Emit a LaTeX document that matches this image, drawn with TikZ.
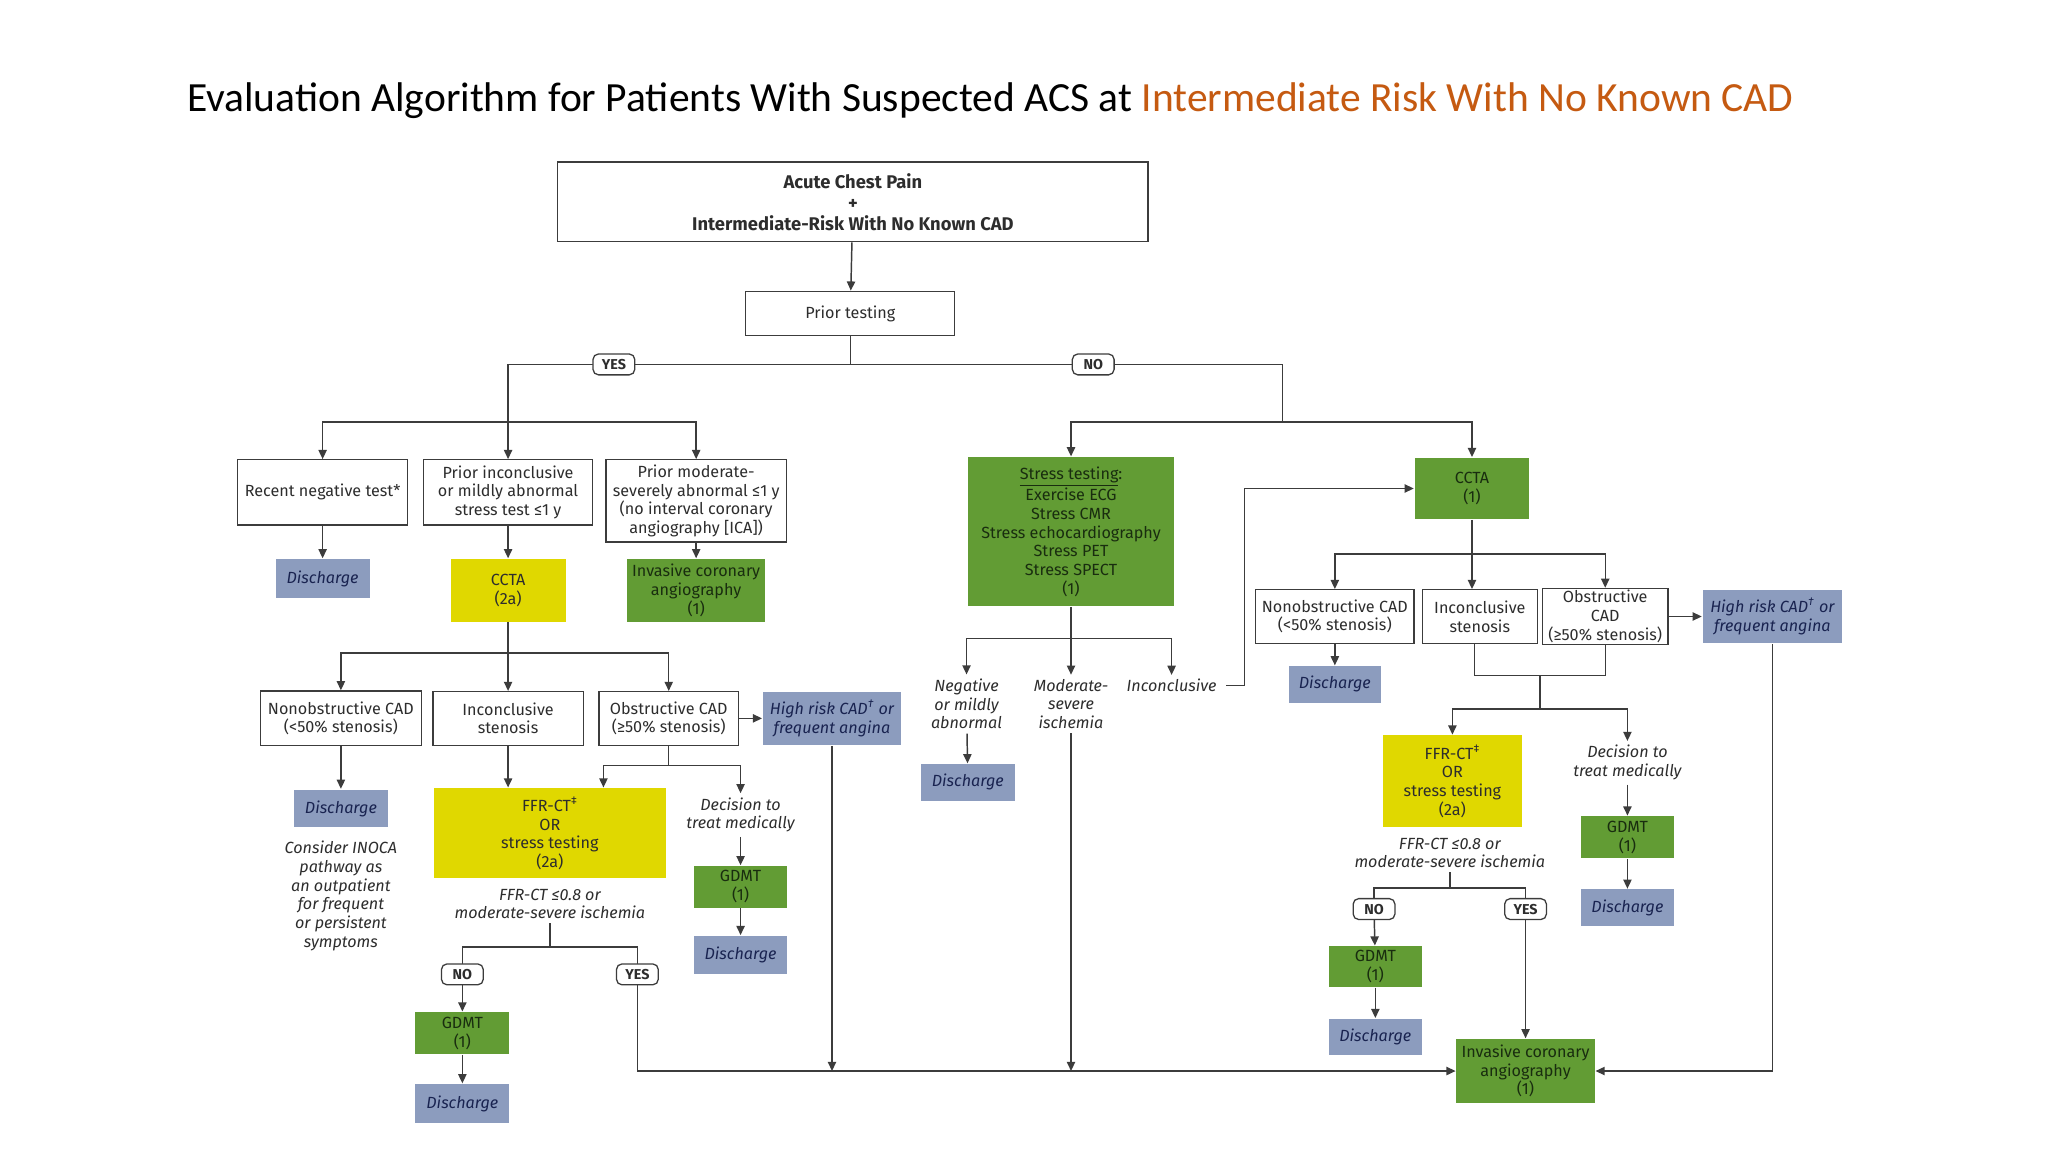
\documentclass[tikz,border=0pt]{standalone}
\usepackage{fontspec}
\setmainfont{Fira Sans}
\newfontfamily\ttlfont{Carlito}
\usepackage{tikz}
\usetikzlibrary{arrows.meta,positioning}
\definecolor{lnc}{RGB}{60,60,60}
\definecolor{txt}{RGB}{45,45,45}
\definecolor{yel}{RGB}{224,216,0}
\definecolor{grn}{RGB}{98,156,52}
\definecolor{gtxt}{RGB}{25,45,15}
\definecolor{dis}{RGB}{140,156,190}
\definecolor{navy}{RGB}{25,35,80}
\definecolor{ttlor}{RGB}{197,90,17}
\tikzset{
  sz/.style 2 args={minimum width=#1*0.025cm,minimum height=#2*0.025cm},
  box/.style={draw=lnc,line width=0.7pt,fill=white,align=center,inner sep=1pt},
  ybox/.style={fill=yel,align=center,inner sep=1pt},
  gbox/.style={fill=grn,align=center,inner sep=1pt,text=gtxt},
  dbox/.style={fill=dis,align=center,inner sep=1pt,text=navy,font=\fontsize{8.8}{10.2}\selectfont\itshape},
  lbl/.style={align=center,inner sep=2pt,font=\fontsize{8.8}{10.2}\selectfont\itshape},
  yn/.style={draw=lnc,line width=0.7pt,rounded corners=3pt,fill=white,inner sep=0pt,sz={32}{16},
    font=\fontsize{7.8}{9}\selectfont\bfseries}}

\begin{document}
\begin{tikzpicture}[x=0.025cm,y=-0.025cm,color=lnc,line width=0.8pt,>={Triangle[length=5pt,width=4.5pt]},
  every node/.style={text=txt,font=\fontsize{8.8}{10.2}\selectfont}]
\useasboundingbox[fill=white] (0,0) rectangle (1568,882);
\node[anchor=west,text=black,font=\ttlfont\fontsize{22.6}{26}\selectfont] (ttl) at (138,77)
  {Evaluation Algorithm for Patients With Suspected ACS at \textcolor{ttlor}{Intermediate Risk With No Known CAD}};

\node[box,sz={452}{61},font=\fontsize{10}{11.4}\selectfont\bfseries] (top) at (653,154.5)
  {Acute Chest Pain\\+\\Intermediate-Risk With No Known CAD};
\node[box,sz={160}{34}] (pt) at (651,240) {Prior testing};
\draw[->] (top) -- (pt);
\coordinate (jp) at (651,279); \coordinate (jy) at (389,279); \coordinate (jn) at (982,279);
\coordinate (jl) at (389,323); \coordinate (jr) at (982,323);
\draw (pt) -- (jp); \draw (jl) -- (jy) -- (jn) -- (jr);
\node[yn] (yes1) at (470,279) {YES};
\node[yn] (no1) at (837,279) {NO};

% prior testing: yes
\node[box,sz={130}{50}] (neg) at (247,377) {Recent negative test*};
\node[box,sz={129}{50}] (inc) at (389,377) {Prior inconclusive\\or mildly abnormal\\stress test ≤1 y};
\node[box,sz={138}{63}] (mod) at (533,383.5) {Prior moderate-\\severely abnormal ≤1 y\\(no interval coronary\\angiography [ICA])};
\draw[->] (jl) -| (neg); \draw[->] (jl) -- (inc); \draw[->] (jl) -| (mod);
\node[dbox,sz={72}{30}] (dis1) at (247,443) {Discharge};
\node[ybox,sz={88}{48}] (ccta1) at (389,452) {CCTA\\(2a)};
\node[gbox,sz={106}{48}] (ica1) at (533,452) {Invasive coronary\\angiography\\(1)};
\draw[->] (neg) -- (dis1); \draw[->] (inc) -- (ccta1); \draw[->] (mod) -- (ica1);

\coordinate (jc) at (389,500);
\node[box,sz={123}{42}] (nob1) at (261,550) {Nonobstructive CAD\\(<50\% stenosis)};
\node[box,sz={115}{41}] (ist1) at (389,550) {Inconclusive\\stenosis};
\node[box,sz={107}{41}] (obs1) at (512,550) {Obstructive CAD\\(≥50\% stenosis)};
\node[dbox,sz={106}{41}] (hr1) at (637,550) {High risk CAD\textsuperscript{†} or\\frequent angina};
\draw (ccta1) -- (jc); \draw[->] (jc) -| (nob1); \draw[->] (jc) -- (ist1); \draw[->] (jc) -| (obs1);
\draw[->] (obs1) -- (hr1);

\node[dbox,sz={72}{29}] (dis2) at (261,619) {Discharge};
\node[lbl] (inoca) at (261,686) {Consider INOCA\\pathway as\\an outpatient\\for frequent\\or persistent\\symptoms};
\draw[->] (nob1) -- (dis2);
\node[ybox,sz={178}{69}] (ffr1) at (421,638) {FFR-CT\textsuperscript{‡}\\OR\\stress testing\\(2a)};
\draw[->] (ist1) -- (ist1 |- ffr1.north);
\coordinate (jo1) at (512,586); \coordinate (fa1) at (462,586);
\draw[->] (obs1) -- (jo1) -- (fa1) -- (fa1 |- ffr1.north);
\node[lbl] (dec1) at (567,624) {Decision to\\treat medically};
\draw[->] (jo1) -| (dec1);
\node[gbox,sz={71}{32}] (gdmt1) at (567,679) {GDMT\\(1)};
\node[dbox,sz={71}{29}] (dis3) at (567,731) {Discharge};
\draw[->] (dec1) -- (gdmt1); \draw[->] (gdmt1) -- (dis3);

\node[lbl] (cond1) at (421,692) {FFR-CT ≤0.8 or\\moderate-severe ischemia};
\coordinate (jf1) at (421,725);
\draw (cond1) -- (jf1);
\draw (jf1) -| (354,738); \draw (jf1) -| (488,738);
\node[yn] (no2) at (354,746) {NO};
\node[yn] (yes2) at (488,746) {YES};
\node[gbox,sz={72}{32}] (gdmt2) at (354,791) {GDMT\\(1)};
\node[dbox,sz={72}{30}] (dis4) at (354,845) {Discharge};
\draw[->] (no2) -- (gdmt2); \draw[->] (gdmt2) -- (dis4);

% prior testing: no
\node[gbox,sz={158}{114}] (st) at (820,407) {\underline{Stress testing}:\\Exercise ECG\\Stress CMR\\Stress echocardiography\\Stress PET\\Stress SPECT\\(1)};
\node[gbox,sz={88}{47}] (ccta2) at (1127,374) {CCTA\\(1)};
\draw[->] (jr) -| (st); \draw[->] (jr) -| (ccta2);
\coordinate (js) at (820,489);
\node[lbl] (neg2) at (740,539) {Negative\\or mildly\\abnormal};
\node[lbl] (msi) at (820,539) {Moderate-\\severe\\ischemia};
\node[lbl] (inc2) at (897,525) {Inconclusive};
\draw (st) -- (js); \draw[->] (js) -| (neg2); \draw[->] (js) -- (msi); \draw[->] (js) -| (inc2);
\node[dbox,sz={72}{28}] (dis5) at (741,599) {Discharge};
\draw[->] (neg2) -- (dis5);
\coordinate (ki) at (953,525);
\draw[->,shorten <=3pt] (inc2) -- (ki) |- (ccta2);

\coordinate (jc2) at (1127,424);
\node[box,sz={121}{41}] (nob2) at (1022,472) {Nonobstructive CAD\\(<50\% stenosis)};
\node[box,sz={88}{41}] (ist2) at (1133,472) {Inconclusive\\stenosis};
\node[box,sz={96}{41}] (obs2) at (1229,472) {Obstructive\\CAD\\(≥50\% stenosis)};
\node[dbox,sz={107}{41}] (hr2) at (1357,472) {High risk CAD\textsuperscript{†} or\\frequent angina};
\draw (ccta2) -- (jc2); \draw[->] (jc2) -| (nob2); \draw[->] (jc2) -- (jc2 |- ist2.north); \draw[->] (jc2) -| (obs2);
\draw[->] (obs2) -- (hr2);
\node[dbox,sz={70}{28}] (dis6) at (1022,524) {Discharge};
\draw[->] (nob2) -- (dis6);

\coordinate (jm2) at (1179,517); \coordinate (jf2) at (1179,543); \coordinate (ji2) at (1129,517);
\draw (ji2 |- ist2.south) -- (ji2) -- (jm2) -| (obs2);
\draw (jm2) -- (jf2);
\node[ybox,sz={106}{70}] (ffr2) at (1112,598) {FFR-CT\textsuperscript{‡}\\OR\\stress testing\\(2a)};
\node[lbl] (dec2) at (1246,584) {Decision to\\treat medically};
\draw[->] (jf2) -| (ffr2); \draw[->] (jf2) -| (dec2);
\node[gbox,sz={71}{32}] (gdmt3) at (1246,641) {GDMT\\(1)};
\node[dbox,sz={71}{28}] (dis7) at (1246,695) {Discharge};
\draw[->] (dec2) -- (gdmt3); \draw[->] (gdmt3) -- (dis7);

\node[lbl] (cond2) at (1110,653) {FFR-CT ≤0.8 or\\moderate-severe ischemia};
\coordinate (jf3) at (1110,680);
\draw (cond2) -- (jf3);
\draw (jf3) -| (1052,690); \draw (jf3) -| (1168,690);
\node[yn] (no3) at (1052,696) {NO};
\node[yn] (yes3) at (1168,696) {YES};
\node[gbox,sz={71}{31}] (gdmt4) at (1053,740) {GDMT\\(1)};
\node[dbox,sz={71}{28}] (dis8) at (1053,794) {Discharge};
\draw[->] (no3) -- (gdmt4); \draw[->] (gdmt4) -- (dis8);

% invasive coronary angiography
\node[gbox,sz={106}{49}] (ica2) at (1168,820) {Invasive coronary\\angiography\\(1)};
\draw[->] (yes3) -- (ica2);
\draw[->] (yes2) |- (ica2);
\draw[->] (hr1) -- (hr1 |- ica2);
\draw[->] (msi) -- (msi |- ica2);
\draw[->] (hr2) |- (ica2);
\end{tikzpicture}
\end{document}
